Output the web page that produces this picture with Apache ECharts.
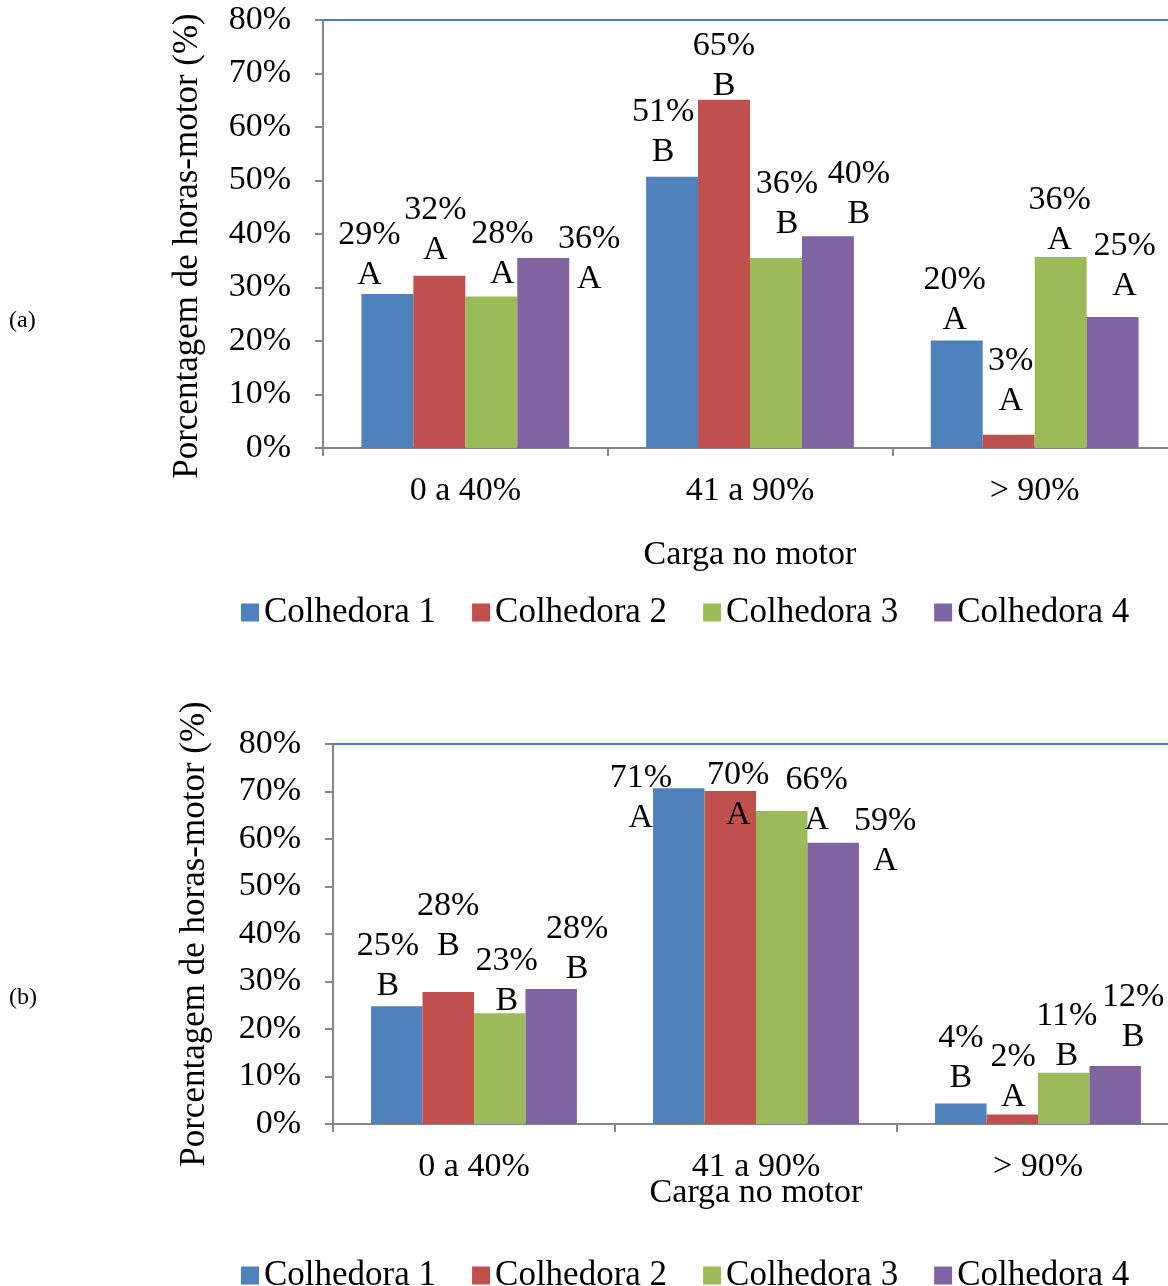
<!DOCTYPE html>
<html>
<head>
<meta charset="utf-8">
<script src="https://cdn.jsdelivr.net/npm/echarts@6/dist/echarts.min.js"></script>
<style>
  html, body { margin: 0; padding: 0; background: #fff; }
  #main { width: 1168px; height: 1286px; }
</style>
</head>
<body>
<div id="main"></div>
<script>
// categorias e series
var categories = ['0 a 40%', '41 a 90%', '> 90%'];
var seriesNames = ['Colhedora 1', 'Colhedora 2', 'Colhedora 3', 'Colhedora 4'];
var colors = ['#4f81bd', '#c0504d', '#9bbb59', '#8064a2'];
var yTicks = [0, 10, 20, 30, 40, 50, 60, 70, 80];

// (a) porcentagem de horas-motor
var a1 = [28.8, 50.7, 20.1];
var a2 = [32.2, 65.1, 2.5];
var a3 = [28.3, 35.5, 35.7];
var a4 = [35.5, 39.6, 24.5];
// letras (teste de medias) - (a)
var letrasA1 = ['A', 'B', 'A'];
var letrasA2 = ['A', 'B', 'A'];
var letrasA3 = ['A', 'B', 'A'];
var letrasA4 = ['A', 'B', 'A'];

// (b)
var b1 = [24.8, 70.7, 4.3];
var b2 = [27.8, 70.1, 2.0];
var b3 = [23.3, 65.9, 10.8];
var b4 = [28.4, 59.2, 12.2];
var letrasB1 = ['B', 'A', 'B'];
var letrasB2 = ['B', 'A', 'A'];
var letrasB3 = ['B', 'A', 'B'];
var letrasB4 = ['B', 'A', 'B'];

// deslocamento dos rotulos (igual ao grafico original)
var shiftA = [
    [[-18, 1], [-9, -5], [-2, 0]],
    [[-4, -6], [0, 6], [2, -14]],
    [[11, -3], [11, -14], [-1, 3]],
    [[46, 41], [31, -2], [12, -11]]
];
var shiftB = [
    [[-9, 0], [-38, 50], [0, -5]],
    [[0, -26], [8, 44], [1, 3]],
    [[7, 8], [35, 29], [3, 3]],
    [[26, 0], [52, 38], [18, -9]]
];

var FONT = 'Liberation Serif';

function makeData(values, letras, shifts) {
    return values.map(function (v, i) {
        return {
            value: v,
            letra: letras[i],
            label: { offset: shifts[i] }
        };
    });
}

function makeSeries(valsList, letrasList, shifts, axisIdx) {
    return valsList.map(function (vals, k) {
        return {
            name: seriesNames[k],
            type: 'bar',
            xAxisIndex: axisIdx,
            yAxisIndex: axisIdx,
            barGap: 0,
            barCategoryGap: '27%',
            itemStyle: { color: colors[k] },
            label: {
                show: true,
                position: 'top',
                distance: 0,
                fontFamily: FONT,
                fontSize: 34,
                lineHeight: 40,
                color: '#000',
                align: 'center',
                formatter: function (p) {
                    return Math.round(p.value) + '%\n' + p.data.letra;
                }
            },
            data: makeData(vals, letrasList[k], shifts[k])
        };
    });
}

function yAxisCfg(idx, gap, pad) {
    return {
        type: 'value',
        gridIndex: idx,
        min: 0,
        max: 80,
        interval: 10,
        name: 'Porcentagem de horas-motor (%)',
        nameLocation: 'middle',
        nameGap: gap,
        nameRotate: 90,
        nameMoveOverlap: false,
        nameTextStyle: { fontFamily: FONT, fontSize: 35, color: '#000', padding: pad },
        axisLine: { show: true, lineStyle: { color: '#868686', width: 2 } },
        axisTick: { show: true, length: 8, lineStyle: { color: '#868686', width: 2 } },
        splitLine: { show: false },
        axisLabel: {
            fontFamily: FONT, fontSize: 34, color: '#000', margin: 32,
            formatter: function (v) { return yTicks.indexOf(v) >= 0 ? v + '%' : ''; }
        }
    };
}

function xAxisCfg(idx, nameGap) {
    return {
        type: 'category',
        gridIndex: idx,
        data: categories,
        name: 'Carga no motor',
        nameLocation: 'middle',
        nameGap: nameGap,
        nameMoveOverlap: false,
        nameTextStyle: { fontFamily: FONT, fontSize: 34, color: '#000' },
        axisLine: { lineStyle: { color: '#868686', width: 2 } },
        axisTick: { show: true, length: 8, lineStyle: { color: '#868686', width: 2 } },
        axisLabel: { fontFamily: FONT, fontSize: 34, color: '#000', margin: 26 }
    };
}

function topLine(idx) {
    return {
        type: 'category',
        gridIndex: idx,
        position: 'top',
        data: categories,
        axisLine: { show: true, lineStyle: { color: '#4a7ebb', width: 2 } },
        axisTick: { show: false },
        axisLabel: { show: false }
    };
}

function legendCfg(top) {
    return {
        data: seriesNames,
        left: 236,
        top: top,
        itemWidth: 18,
        itemHeight: 18,
        itemGap: 36,
        icon: 'rect',
        textStyle: { fontFamily: FONT, fontSize: 35, color: '#000' }
    };
}

var myChart = echarts.init(document.getElementById('main'));

var option = {
    animation: false,
    backgroundColor: '#fff',
    grid: [
        { left: 323, top: 20, width: 854, height: 428, outerBoundsMode: 'none', containLabel: false },
        { left: 333, top: 744, width: 846, height: 380, outerBoundsMode: 'none', containLabel: false }
    ],
    xAxis: [xAxisCfg(0, 90), xAxisCfg(1, 52), topLine(0), topLine(1)],
    yAxis: [yAxisCfg(0, 118, [0, 24, 0, 0]), yAxisCfg(1, 121, 0)],
    legend: [legendCfg(590), legendCfg(1253)],
    graphic: [
        { type: 'text', left: 9, top: 309, style: { text: '(a)', font: '24px "Liberation Serif"', fill: '#000' } },
        { type: 'text', left: 9, top: 986, style: { text: '(b)', font: '24px "Liberation Serif"', fill: '#000' } }
    ],
    series: makeSeries([a1, a2, a3, a4], [letrasA1, letrasA2, letrasA3, letrasA4], shiftA, 0)
        .concat(makeSeries([b1, b2, b3, b4], [letrasB1, letrasB2, letrasB3, letrasB4], shiftB, 1))
};

myChart.setOption(option, true);
</script>
</body>
</html>
